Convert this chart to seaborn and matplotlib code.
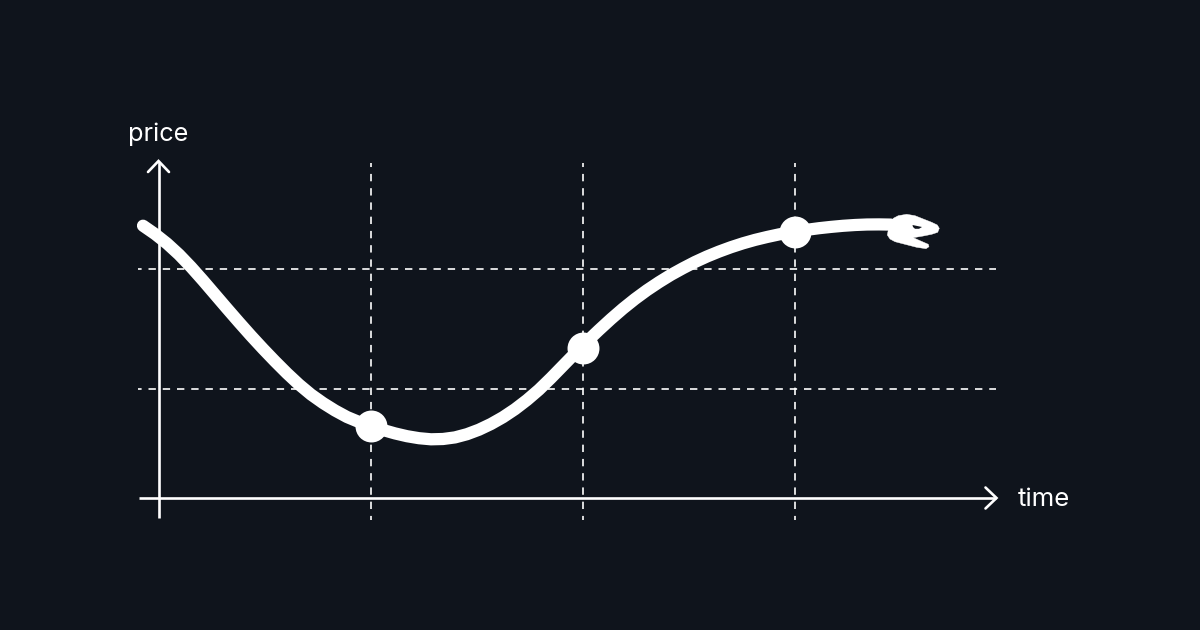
import matplotlib
matplotlib.use("Agg")
import matplotlib.pyplot as plt
import seaborn as sns
import pandas as pd

BG = "#0F141C"
FG = "#FFFFFF"

# Price path
time_values = [-16, -4, 8, 20, 32, 44, 56, 68, 80, 92, 104, 116, 128, 140, 152, 164, 176, 188, 200, 212,
               224, 236, 248, 260, 272, 284, 296, 308, 320, 332, 344, 356, 368, 380, 392, 404, 416, 428,
               440, 452, 464, 476, 488, 500, 512, 524, 536, 548, 560, 572, 584, 596, 608, 620, 636, 648,
               660, 672, 684, 696, 708, 720, 732]
price_values = [272.3, 264, 254.5, 243.5, 231, 217.5, 203.5, 189.5, 175.7, 162.2, 149.2, 136.7, 124.7, 113.5,
                103.5, 95, 87.5, 81, 76, 71.8, 68, 64.6, 61.8, 59.8, 58.7, 59, 60.6, 63.8, 68.3, 74, 80.8, 88.8,
                98, 108.3, 120, 132.3, 144.6, 156.6, 168, 179, 189.4, 199, 207.8, 215.8, 223.2, 229.8, 236,
                241.5, 246.4, 250.8, 254.7, 258.1, 261, 263.6, 266.4, 268.2, 269.8, 271.1, 272.2, 273, 273.5,
                273.6, 273.4]
marker_times = [212, 424, 636]
marker_prices = [72, 150, 266.5]
grid_times = [212, 424, 636]
grid_prices = [109.5, 229.5]
x_label = "time"
y_label = "price"

# Snake head outline and eye
head_t = [734.3, 739.3, 747.7, 756, 764.3, 772.7, 778.3, 780.3, 778.7, 772.7, 764.3, 754.3, 761, 769.3, 770,
          767, 757.7, 746, 736, 731, 728.3, 729.3, 733.3]
head_p = [279.7, 282.3, 283.7, 282.3, 279, 275.7, 273, 269.7, 265.7, 263.7, 262, 260.3, 257.3, 253.7, 251.3,
          249.3, 250.7, 253.7, 256.3, 259, 263, 268, 277.3]
eye_t = [753.5, 763, 760, 756, 754]
eye_p = [273, 271, 269.2, 269.2, 271]

sns.set_theme(style="dark", rc={"axes.facecolor": BG, "figure.facecolor": BG})
plt.rcParams["font.family"] = ["Inter", "DejaVu Sans"]
plt.rcParams["lines.scale_dashes"] = False

fig = plt.figure(figsize=(12, 6.3), dpi=100)
ax = fig.add_axes([0, 0, 1, 1])

AXIS_LW = 1.9
GRID_LW = 1.3
for t in grid_times:
    ax.plot([t, t], [335, -22], color=FG, lw=GRID_LW, ls=(2.4, (5.3, 4.96)), alpha=0.92,
            dash_capstyle="butt", zorder=1)
for p in grid_prices:
    ax.plot([-21, 837], [p, p], color=FG, lw=GRID_LW, ls=(2.7, (5.3, 4.96)), alpha=0.92,
            dash_capstyle="butt", zorder=1)

# Axes with open arrow heads
ax.plot([-0.5, -0.5], [-20, 336], color=FG, lw=AXIS_LW, solid_capstyle="butt", zorder=2)
ax.plot([-20, 837], [0, 0], color=FG, lw=AXIS_LW, solid_capstyle="butt", zorder=2)
ax.plot([-11, -0.5, 10], [326, 337, 326], color=FG, lw=AXIS_LW, solid_joinstyle="miter", zorder=2)
ax.plot([826.5, 837.5, 826.5], [10.5, 0, -10.5], color=FG, lw=AXIS_LW, solid_joinstyle="miter", zorder=2)

df = pd.DataFrame({"time": time_values, "price": price_values})
sns.lineplot(data=df, x="time", y="price", ax=ax, color=FG, lw=8.8, sort=False, estimator=None,
             solid_capstyle="round", solid_joinstyle="round", zorder=3)
sns.scatterplot(x=marker_times, y=marker_prices, ax=ax, color=FG, s=23 ** 2, linewidth=0, zorder=4)

ax.fill(head_t, head_p, color=FG, lw=0.3, zorder=5)
ax.fill(eye_t, eye_p, color=BG, lw=0, zorder=6)

ax.text(-30.5, 357, y_label, color=FG, fontsize=18.2, ha="left", va="baseline")
ax.text(859, -8, x_label, color=FG, fontsize=18.6, ha="left", va="baseline")

ax.set_xlim(-159, 1041)
ax.set_ylim(-132, 498)
ax.axis("off")
fig.savefig("out.png", dpi=100, facecolor=BG)
